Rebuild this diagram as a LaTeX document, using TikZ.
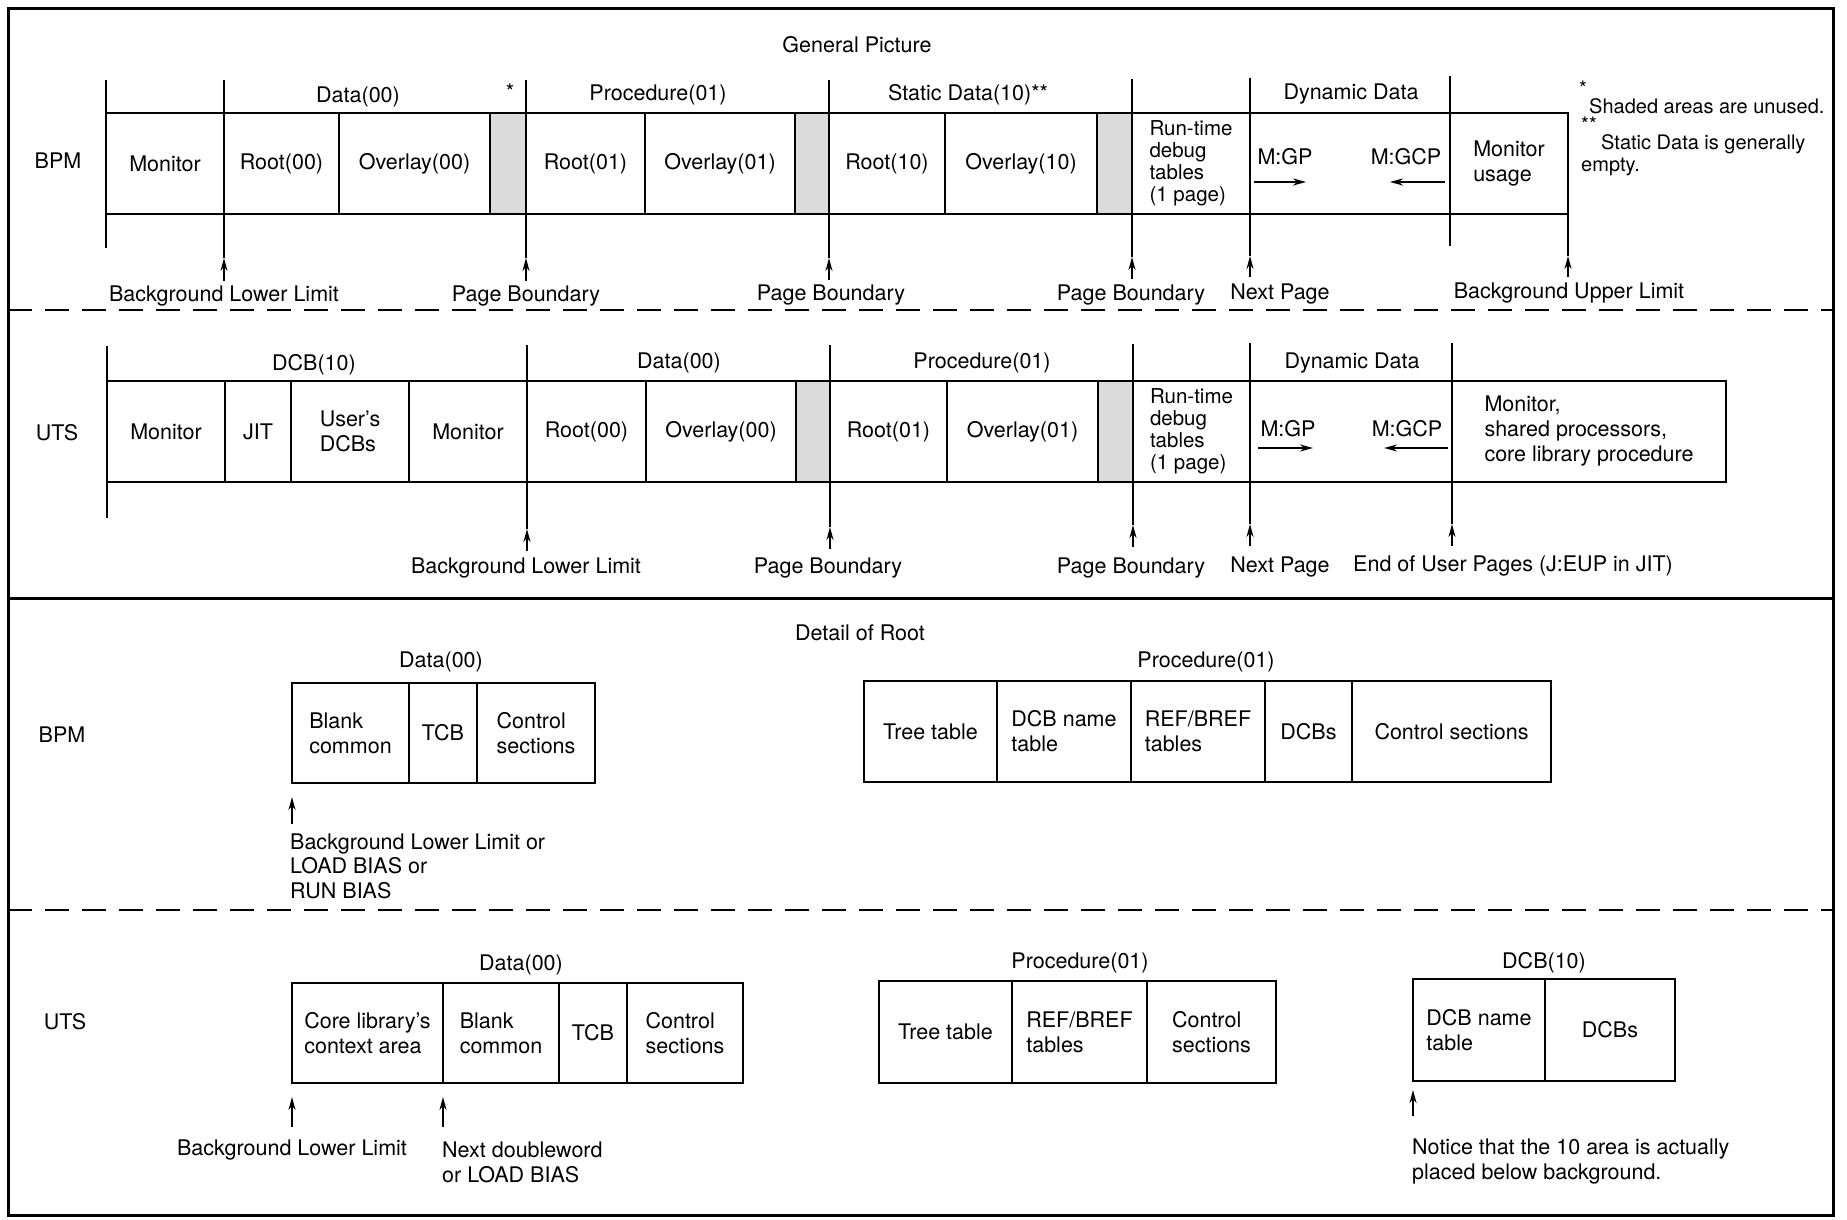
\documentclass[tikz,border=0pt]{standalone}
\usepackage{fontspec}
\setmainfont{TeX Gyre Heros}
\usetikzlibrary{arrows.meta}

\begin{document}
\begin{tikzpicture}
  [x=1pt,y=-1pt,font=\fontsize{21.5}{25}\selectfont]
      \tikzstyle{cell_style} = [draw=black, line width=2.6, inner sep=0, outer sep=0, align=left]
      \tikzstyle{unused_style} = [cell_style, fill=black!14]
      \tikzstyle{tick_style} = [draw=black, line width=1.7]
      \tikzstyle{arrow_style} = [tick_style, -{Stealth[length=13, width=7]}]
      \tikzstyle{frame_style} = [draw=black, line width=3]
      \tikzstyle{cut_style} = [frame_style, line width=2.6, dash pattern=on 24pt off 13pt]
      \tikzstyle{note_style} = [inner sep=1, align=left]
      \tikzstyle{foot_style} = [note_style, font=\fontsize{20}{25}\selectfont]
  \useasboundingbox (0,0) rectangle (1847,1220);
  % frame and separators
  \draw[frame_style] (8,9) rectangle (1833,1215);
  \coordinate (c1l) at (8,310);
  \coordinate (c1r) at (1833,310);
  \coordinate (c2l) at (8,598);
  \coordinate (c2r) at (1833,598);
  \coordinate (c3l) at (8,910);
  \coordinate (c3r) at (1833,910);
  \draw[cut_style] (c1l) -- (c1r);
  \draw[frame_style] (c2l) -- (c2r);
  \draw[cut_style] (c3l) -- (c3r);

  % General Picture, BPM
  \node[note_style] (gp) at (857,45) {General Picture};
  \node[note_style] (bpm) at (58,161) {BPM};
  \node[cell_style, minimum width=118, minimum height=101] (b1) at (165,163.5) {Monitor};
  \node[cell_style, minimum width=115, minimum height=101] (b2) at (281.5,163.5) {Root(00)};
  \node[cell_style, minimum width=151, minimum height=101] (b3) at (414.5,163.5) {Overlay(00)};
  \node[unused_style, minimum width=36, minimum height=101] (b4) at (508,163.5) {};
  \node[cell_style, minimum width=119, minimum height=101] (b5) at (585.5,163.5) {Root(01)};
  \node[cell_style, minimum width=150, minimum height=101] (b6) at (720,163.5) {Overlay(01)};
  \node[unused_style, minimum width=34, minimum height=101] (b7) at (812,163.5) {};
  \node[cell_style, minimum width=116, minimum height=101] (b8) at (887,163.5) {Root(10)};
  \node[cell_style, minimum width=152, minimum height=101] (b9) at (1021,163.5) {Overlay(10)};
  \node[unused_style, minimum width=35, minimum height=101] (b10) at (1114.5,163.5) {};
  \node[cell_style, minimum width=118, minimum height=101, font=\fontsize{20.5}{22}\selectfont] (b11) at (1191,163.5) {Run-time\\debug\\tables\\(1 page)};
  \node[cell_style, minimum width=200, minimum height=101] (b12) at (1350,163.5) {};
  \node[cell_style, minimum width=118, minimum height=101] (b13) at (1509,163.5) {Monitor\\usage};

  \node[note_style] (bd) at (358,97) {Data(00)};
  \node[note_style] (bs) at (510,92) {*};
  \node[note_style] (bp) at (658,95) {Procedure(01)};
  \node[note_style] (bsd) at (968,95) {Static Data(10)**};
  \node[note_style] (bdd) at (1351,94) {Dynamic Data};

  \node[note_style] (bgp) at (1285,157) {M:GP};
  \node[note_style] (bgcp) at (1406,157) {M:GCP};
  \coordinate (bgp1) at (1254,182);
  \coordinate (bgp2) at (1306,182);
  \coordinate (bgcp1) at (1445,182);
  \coordinate (bgcp2) at (1390,182);
  \draw[arrow_style] (bgp1) -- (bgp2);
  \draw[arrow_style] (bgcp1) -- (bgcp2);

  \node[foot_style] (f1) at (1583,88) {*};
  \node[foot_style, anchor=west] (f2) at (1588,106) {Shaded areas are unused.};
  \node[foot_style] (f3) at (1589,124) {**};
  \node[foot_style, anchor=west] (f4) at (1600,144) {Static Data is generally};
  \node[foot_style, anchor=west] (f5) at (1580,167) {empty.};

  \coordinate (bt1) at (106,80);
  \coordinate (bb1) at (106,248);
  \coordinate (bt2) at (224,80);
  \coordinate (bh2) at (224,258);
  \coordinate (bb2) at (224,281);
  \coordinate (bt3) at (526,80);
  \coordinate (bh3) at (526,258);
  \coordinate (bb3) at (526,281);
  \coordinate (bt4) at (829,80);
  \coordinate (bh4) at (829,258);
  \coordinate (bb4) at (829,280);
  \coordinate (bt5) at (1132,79);
  \coordinate (bh5) at (1132,257);
  \coordinate (bb5) at (1132,279);
  \coordinate (bt6) at (1250,78);
  \coordinate (bh6) at (1250,256);
  \coordinate (bb6) at (1250,277);
  \coordinate (bt7) at (1450,76);
  \coordinate (bb7) at (1450,246);
  \coordinate (bh8) at (1568,256);
  \coordinate (bb8) at (1568,277);
  \draw[tick_style] (bt1) -- (bb1);
  \draw[tick_style] (bt2) -- (bh2);
  \draw[arrow_style] (bb2) -- (bh2);
  \draw[tick_style] (bt3) -- (bh3);
  \draw[arrow_style] (bb3) -- (bh3);
  \draw[tick_style] (bt4) -- (bh4);
  \draw[arrow_style] (bb4) -- (bh4);
  \draw[tick_style] (bt5) -- (bh5);
  \draw[arrow_style] (bb5) -- (bh5);
  \draw[tick_style] (bt6) -- (bh6);
  \draw[arrow_style] (bb6) -- (bh6);
  \draw[tick_style] (bt7) -- (bb7);
  \draw[tick_style] (b13.south east) -- (bh8);
  \draw[arrow_style] (bb8) -- (bh8);

  \node[note_style] (bl1) at (224,296) {Background Lower Limit};
  \node[note_style] (bl2) at (526,296) {Page Boundary};
  \node[note_style] (bl3) at (831,295) {Page Boundary};
  \node[note_style] (bl4) at (1131,295) {Page Boundary};
  \node[note_style] (bl5) at (1280,294) {Next Page};
  \node[note_style] (bl6) at (1569,293) {Background Upper Limit};

  % General Picture, UTS
  \node[note_style] (uts) at (57,433) {UTS};
  \node[cell_style, minimum width=118, minimum height=101] (u1) at (166,431.5) {Monitor};
  \node[cell_style, minimum width=66, minimum height=101] (u2) at (258,431.5) {JIT};
  \node[cell_style, minimum width=118, minimum height=101] (u3) at (350,431.5) {User's\\DCBs};
  \node[cell_style, minimum width=118, minimum height=101] (u4) at (468,431.5) {Monitor};
  \node[cell_style, minimum width=119, minimum height=101] (u5) at (586.5,431.5) {Root(00)};
  \node[cell_style, minimum width=150, minimum height=101] (u6) at (721,431.5) {Overlay(00)};
  \node[unused_style, minimum width=34, minimum height=101] (u7) at (813,431.5) {};
  \node[cell_style, minimum width=117, minimum height=101] (u8) at (888.5,431.5) {Root(01)};
  \node[cell_style, minimum width=151, minimum height=101] (u9) at (1022.5,431.5) {Overlay(01)};
  \node[unused_style, minimum width=35, minimum height=101] (u10) at (1115.5,431.5) {};
  \node[cell_style, minimum width=117, minimum height=101, font=\fontsize{20.5}{22}\selectfont] (u11) at (1191.5,431.5) {Run-time\\debug\\tables\\(1 page)};
  \node[cell_style, minimum width=202, minimum height=101] (u12) at (1351,431.5) {};
  \node[cell_style, minimum width=274, minimum height=101] (u13) at (1589,431.5) {Monitor,\\shared processors,\\core library procedure};

  \node[note_style] (ud) at (314,365) {DCB(10)};
  \node[note_style] (ud2) at (679,363) {Data(00)};
  \node[note_style] (up) at (982,363) {Procedure(01)};
  \node[note_style] (udd) at (1352,363) {Dynamic Data};

  \node[note_style] (ugp) at (1288,429) {M:GP};
  \node[note_style] (ugcp) at (1407,429) {M:GCP};
  \coordinate (ugp1) at (1258,448);
  \coordinate (ugp2) at (1313,448);
  \coordinate (ugcp1) at (1448,448);
  \coordinate (ugcp2) at (1384,448);
  \draw[arrow_style] (ugp1) -- (ugp2);
  \draw[arrow_style] (ugcp1) -- (ugcp2);

  \coordinate (ut1) at (107,346);
  \coordinate (ub1) at (107,518);
  \coordinate (ut2) at (527,345);
  \coordinate (uh2) at (527,529);
  \coordinate (ub2) at (527,551);
  \coordinate (ut3) at (830,345);
  \coordinate (uh3) at (830,527);
  \coordinate (ub3) at (830,549);
  \coordinate (ut4) at (1133,344);
  \coordinate (uh4) at (1133,525);
  \coordinate (ub4) at (1133,547);
  \coordinate (ut5) at (1250,343);
  \coordinate (uh5) at (1250,524);
  \coordinate (ub5) at (1250,546);
  \coordinate (ut6) at (1452,343);
  \coordinate (uh6) at (1452,524);
  \coordinate (ub6) at (1452,546);
  \draw[tick_style] (ut1) -- (ub1);
  \draw[tick_style] (ut2) -- (uh2);
  \draw[arrow_style] (ub2) -- (uh2);
  \draw[tick_style] (ut3) -- (uh3);
  \draw[arrow_style] (ub3) -- (uh3);
  \draw[tick_style] (ut4) -- (uh4);
  \draw[arrow_style] (ub4) -- (uh4);
  \draw[tick_style] (ut5) -- (uh5);
  \draw[arrow_style] (ub5) -- (uh5);
  \draw[tick_style] (ut6) -- (uh6);
  \draw[arrow_style] (ub6) -- (uh6);

  \node[note_style] (ul1) at (526,568) {Background Lower Limit};
  \node[note_style] (ul2) at (828,568) {Page Boundary};
  \node[note_style] (ul3) at (1131,568) {Page Boundary};
  \node[note_style] (ul4) at (1280,567) {Next Page};
  \node[note_style] (ul5) at (1513,566) {End of User Pages (J:EUP in JIT)};

  % Detail of Root, BPM
  \node[note_style] (dr) at (860,633) {Detail of Root};
  \node[note_style] (dbpm) at (62,735) {BPM};
  \node[note_style] (dbd) at (441,662) {Data(00)};
  \node[cell_style, minimum width=117, minimum height=100] (d1) at (350.5,733) {Blank\\common};
  \node[cell_style, minimum width=68, minimum height=100] (d2) at (443,733) {TCB};
  \node[cell_style, minimum width=118, minimum height=100] (d3) at (536,733) {Control\\sections};
  \coordinate (dh1) at (292,797);
  \coordinate (db1) at (292,824);
  \draw[arrow_style] (db1) -- (dh1);
  \node[note_style, anchor=west, font=\fontsize{21.5}{24.5}\selectfont] (dl1) at (289,866) {Background Lower Limit or\\LOAD BIAS or\\RUN BIAS};

  \node[note_style] (dbp) at (1206,662) {Procedure(01)};
  \node[cell_style, minimum width=133, minimum height=101] (d4) at (930.5,731.5) {Tree table};
  \node[cell_style, minimum width=134, minimum height=101] (d5) at (1064,731.5) {DCB name\\table};
  \node[cell_style, minimum width=134, minimum height=101] (d6) at (1198,731.5) {REF/BREF\\tables};
  \node[cell_style, minimum width=87, minimum height=101] (d7) at (1308.5,731.5) {DCBs};
  \node[cell_style, minimum width=199, minimum height=101] (d8) at (1451.5,731.5) {Control sections};

  % Detail of Root, UTS
  \node[note_style] (duts) at (65,1022) {UTS};
  \node[note_style] (dud) at (521,965) {Data(00)};
  \node[cell_style, minimum width=151, minimum height=100] (e1) at (367.5,1033) {Core library's\\context area};
  \node[cell_style, minimum width=116, minimum height=100] (e2) at (501,1033) {Blank\\common};
  \node[cell_style, minimum width=68, minimum height=100] (e3) at (593,1033) {TCB};
  \node[cell_style, minimum width=116, minimum height=100] (e4) at (685,1033) {Control\\sections};
  \coordinate (eh1) at (292,1097);
  \coordinate (eb1) at (292,1127);
  \coordinate (eh2) at (443,1097);
  \coordinate (eb2) at (443,1127);
  \draw[arrow_style] (eb1) -- (eh1);
  \draw[arrow_style] (eb2) -- (eh2);
  \node[note_style] (el1) at (292,1150) {Background Lower Limit};
  \node[note_style, anchor=west] (el2) at (441,1162.5) {Next doubleword\\or LOAD BIAS};

  \node[note_style] (dup) at (1080,963) {Procedure(01)};
  \node[cell_style, minimum width=133, minimum height=102] (e5) at (945.5,1032) {Tree table};
  \node[cell_style, minimum width=135, minimum height=102] (e6) at (1079.5,1032) {REF/BREF\\tables};
  \node[cell_style, minimum width=129, minimum height=102] (e7) at (1211.5,1032) {Control\\sections};

  \node[note_style] (dudcb) at (1544,963) {DCB(10)};
  \node[cell_style, minimum width=132, minimum height=102] (e8) at (1479,1030) {DCB name\\table};
  \node[cell_style, minimum width=130, minimum height=102] (e9) at (1610,1030) {DCBs};
  \coordinate (eh3) at (1413,1090);
  \coordinate (eb3) at (1413,1116);
  \draw[arrow_style] (eb3) -- (eh3);
  \node[note_style, anchor=west] (el3) at (1411,1161.5) {Notice that the 10 area is actually\\placed below background.};
\end{tikzpicture}
\end{document}
